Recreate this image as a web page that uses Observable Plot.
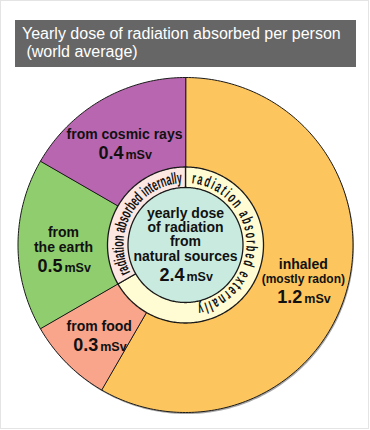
<!DOCTYPE html>
<html>
<head>
<meta charset="utf-8">
<script src="https://cdn.jsdelivr.net/npm/d3@7"></script>
<script src="https://cdn.jsdelivr.net/npm/@observablehq/plot@0.6"></script>
<style>
  html, body { margin: 0; padding: 0; background: #fff; }
  #frame { position: relative; width: 370px; height: 430px; overflow: hidden;
           font-family: "Liberation Sans", Arial, Helvetica, sans-serif; }
  #border { position: absolute; left: 0; top: 0; width: 369px; height: 429px;
            box-sizing: border-box; border: 1px solid #e4e4e4; }
  #title { position: absolute; left: 15px; top: 20px; width: 341px; height: 47px;
           box-sizing: border-box; padding: 5px 0 0 7px; background: #666666; color: #fff;
           font-size: 16px; line-height: 18px; white-space: pre; }
  #chart { position: absolute; left: 0; top: 70px; }
</style>
</head>
<body>
<div id="frame">
  <div id="border"></div>
  <div id="title"></div>
  <div id="chart"></div>
</div>
<script>
// ---------------- data ----------------
const titleLines = ["Yearly dose of radiation absorbed per person", " (world average)"];
const sources = ["inhaled", "from food", "from\nthe earth", "from cosmic rays"];
const notes = ["(mostly radon)", "", "", ""];
const doses = [1.2, 0.3, 0.5, 0.4];          // mSv per year
const drawnShare = [7, 1, 2, 2];              // slice sizes as drawn (twelfths of the circle)
const ringGroup = ["externally", "externally", "internally", "internally"];
const ringGroups = ["externally", "internally"];
const ringLabels = ["radiation absorbed externally", "radiation absorbed internally"];
const centerTitle = "yearly dose\nof radiation\nfrom\nnatural sources";
const unit = "mSv";
const sliceColors = ["#fdc55e", "#f8a58b", "#8fcd6e", "#b966b1"];
const ringColors = ["#fffbd3", "#fce7e2"];
const coreColor = "#c9ebdf";

// ---------------- layout ----------------
const W = 370, H = 360;
const R = 167.5, Rring = 78, Rcore = 57.5, Rlabel = 122, Rtext = 61.5;
const ringSpans = [[6, 170], [243, 357]];   // degrees covered by the ring captions
const ringFontSize = 16;
const FONT = "'Liberation Sans', Arial, Helvetica, sans-serif";
const rad = d => d * Math.PI / 180;

document.getElementById("title").textContent = titleLines.join("\n");

const rows = sources.map((s, i) => ({name: s, note: notes[i], dose: doses[i], share: drawnShare[i], group: ringGroup[i]}));
const arcs = d3.pie().sort(null).value(d => d.share)(rows);

function arcPoints(r, a0, a1, key, withCenter) {
  const n = Math.max(2, Math.ceil((a1 - a0) / rad(1)));
  const pts = withCenter ? [{x: 0, y: 0, key}] : [];
  for (let j = 0; j <= n; j++) {
    const a = a0 + (a1 - a0) * j / n;
    pts.push({x: r * Math.sin(a), y: r * Math.cos(a), key});
  }
  return pts;
}

const slicePts = arcs.flatMap(a => arcPoints(R, a.startAngle, a.endAngle, a.data.name, true));
const ringPts = ringGroups.flatMap(g => {
  const gs = arcs.filter(a => a.data.group === g);
  return arcPoints(Rring, d3.min(gs, a => a.startAngle), d3.max(gs, a => a.endAngle), g, true);
});
const outlinePts = arcPoints(R, 0, 2 * Math.PI, "outline", false);
const corePts = arcPoints(Rcore, 0, 2 * Math.PI, "core", false);

// label blocks
const nameRows = [], noteRows = [], valueRows = [];
for (const a of arcs) {
  const mid = (a.startAngle + a.endAngle) / 2;
  const ax = Rlabel * Math.sin(mid), ay = Rlabel * Math.cos(mid);
  const nLines = a.data.name.split("\n").length;
  const hasNote = !!a.data.note;
  const h = 10 + (nLines - 1) * 14.5 + (hasNote ? 14 : 0) + 19.5;
  const valueDy = 4.5 + h / 2;
  const noteDy = valueDy - 19.5;
  const nameDy = noteDy - (hasNote ? 14 : 0);
  nameRows.push({x: ax, y: ay - nameDy, text: a.data.name});
  if (hasNote) noteRows.push({x: ax, y: ay - noteDy, text: a.data.note});
  valueRows.push({x: ax, y: ay - valueDy, value: d3.format(".1f")(a.data.dose)});
}
const total = d3.sum(doses);
valueRows.push({x: 0, y: -35.5, value: d3.format(".1f")(total)});

// curved captions in the inner ring
const measureCtx = document.createElement("canvas").getContext("2d");
measureCtx.font = `bold ${ringFontSize}px ${FONT}`;
const arcLen = ([d0, d1]) => Rtext * rad(d1 - d0);
const squeeze = Math.min(1, arcLen(ringSpans[1]) / measureCtx.measureText(ringLabels[1]).width);

function ringCaption(label, span, idx) {
  return (index, scales) => {
    const {x, y} = scales;
    const cx = x(0), cy = y(0), k = Math.abs(x(1) - x(0)), rr = Rtext * k;
    const a0 = rad(span[0]), a1 = rad(span[1]);
    const p = a => [cx + rr * Math.sin(a), cy - rr * Math.cos(a)];
    const [x0, y0] = p(a0), [x1, y1] = p(a1);
    const id = "ring-caption-" + idx;
    const T = rr * (a1 - a0);
    const w = measureCtx.measureText(label).width;
    const ls = Math.max(0, (T / squeeze - w) / label.length);
    const g = d3.create("svg:g");
    g.append("path").attr("id", id).attr("fill", "none")
      .attr("d", `M${x0},${y0}A${rr},${rr} 0 ${a1 - a0 > Math.PI ? 1 : 0} 1 ${x1},${y1}`);
    g.append("text")
      .attr("font-family", FONT).attr("font-weight", "bold").attr("font-size", ringFontSize)
      .attr("fill", "#111").attr("text-anchor", "start").attr("letter-spacing", ls.toFixed(2))
      .append("textPath").attr("href", "#" + id)
      .attr("textLength", T.toFixed(1)).attr("lengthAdjust", "spacingAndGlyphs")
      .text(label);
    return g.node();
  };
}

const chart = Plot.plot({
  width: W, height: H,
  margin: 0,
  style: {fontFamily: FONT, background: "transparent"},
  x: {domain: [-185, 185], axis: null},
  y: {domain: [-185.5, 174.5], axis: null},
  color: {domain: [...sources, ...ringGroups], range: [...sliceColors, ...ringColors]},
  marks: [
    Plot.line(outlinePts, {x: "x", y: "y", curve: "linear-closed", fill: "#000", fillOpacity: 0.35, stroke: "none", dx: 1, dy: 1.6}),
    Plot.line(slicePts, {x: "x", y: "y", z: "key", fill: "key", stroke: "#1a1a1a", strokeWidth: 1, strokeLinejoin: "round", curve: "linear-closed"}),
    Plot.line(ringPts, {x: "x", y: "y", z: "key", fill: "key", stroke: "#1a1a1a", strokeWidth: 1.3, strokeLinejoin: "round", curve: "linear-closed"}),
    Plot.line(corePts, {x: "x", y: "y", fill: coreColor, stroke: "#1a1a1a", strokeWidth: 1.3, curve: "linear-closed"}),
    ...ringLabels.map((l, i) => ringCaption(l, ringSpans[i], i)),
    Plot.text(nameRows, {x: "x", y: "y", text: "text", fontSize: 14, fontWeight: "bold", lineAnchor: "bottom", lineHeight: 1.04, fill: "#111"}),
    Plot.text(noteRows, {x: "x", y: "y", text: "text", fontSize: 12, fontWeight: "bold", lineAnchor: "bottom", fill: "#111"}),
    Plot.text(valueRows, {x: "x", y: "y", text: "value", fontSize: 18, fontWeight: "bold", lineAnchor: "bottom", textAnchor: "end", dx: -1, fill: "#111"}),
    Plot.text(valueRows, {x: "x", y: "y", text: () => unit, fontSize: 12.5, fontWeight: "bold", lineAnchor: "bottom", textAnchor: "start", dx: 1, fill: "#111"}),
    Plot.text([centerTitle], {x: () => 0, y: () => -15.5, text: d => d, fontSize: 14, fontWeight: "bold", lineAnchor: "bottom", lineHeight: 1.01, fill: "#111"})
  ]
});
document.getElementById("chart").appendChild(chart);
</script>
</body>
</html>
